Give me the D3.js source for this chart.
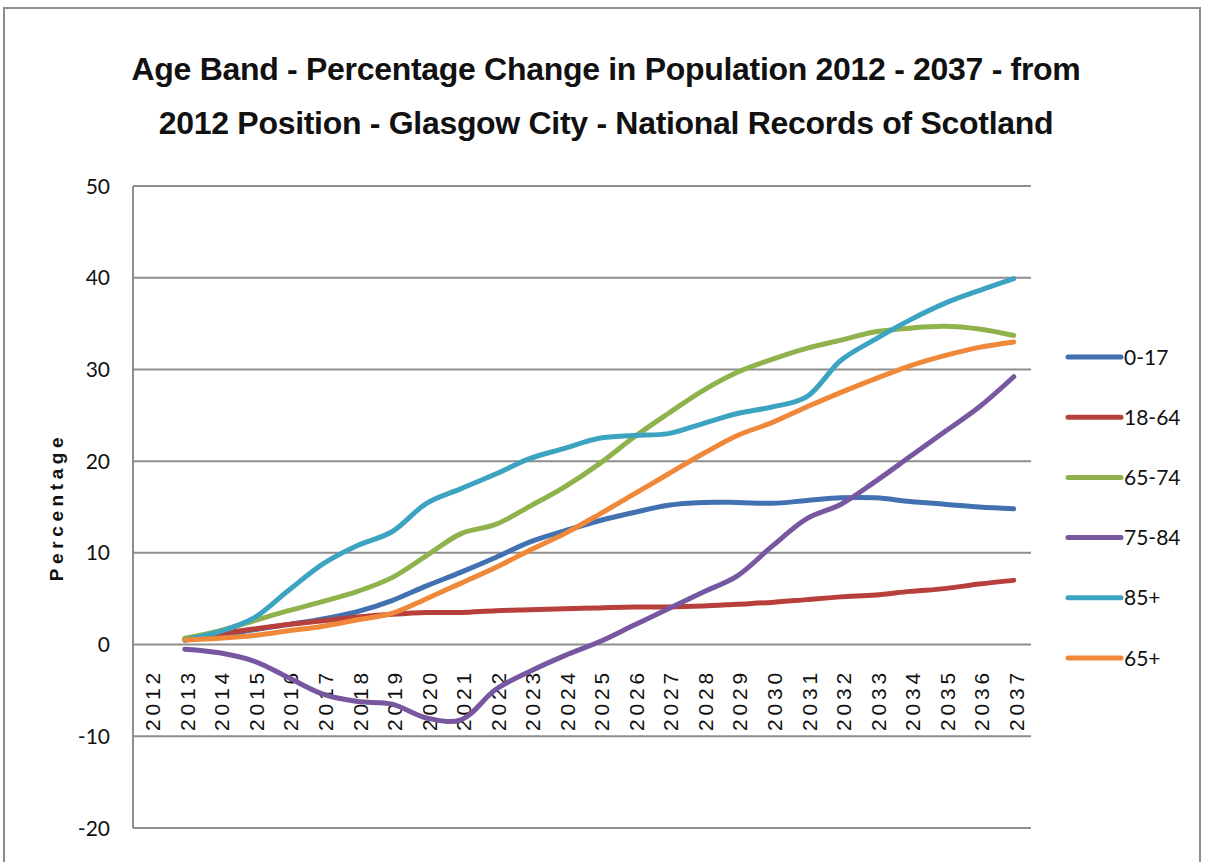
<!DOCTYPE html>
<meta charset="utf-8">
<title>Age Band - Percentage Change in Population</title>
<style>
  body { margin: 0; background: #fff; }
  text { fill: #111; }
</style>
<body>
<script src="https://cdn.jsdelivr.net/npm/d3@7"></script>
<script>

// data
const years = d3.range(2012, 2038);
const bands = ["0-17", "18-64", "65-74", "75-84", "85+", "65+"];
const colors = ["#4171b0", "#b8403c", "#8fb24c", "#7657a0", "#3ca3c0", "#f0883a"];
const yTicks = [-20, -10, 0, 10, 20, 30, 40, 50];

// 2012 is the base year, so no value there
const age0to17 = [null, 0.5, 1.0, 1.6, 2.2, 2.8, 3.6, 4.8, 6.4, 7.9, 9.5, 11.2, 12.4, 13.5, 14.4, 15.2, 15.5, 15.5, 15.4, 15.7, 16.0, 16.0, 15.6, 15.3, 15.0, 14.8];
const age18to64 = [null, 0.5, 1.2, 1.7, 2.2, 2.6, 3.0, 3.3, 3.5, 3.5, 3.7, 3.8, 3.9, 4.0, 4.1, 4.1, 4.2, 4.4, 4.6, 4.9, 5.2, 5.4, 5.8, 6.1, 6.6, 7.0];
const age65to74 = [null, 0.7, 1.5, 2.6, 3.7, 4.7, 5.8, 7.3, 9.7, 12.1, 13.1, 15.1, 17.2, 19.7, 22.6, 25.2, 27.7, 29.7, 31.1, 32.3, 33.2, 34.1, 34.5, 34.7, 34.4, 33.7];
const age75to84 = [null, -0.5, -0.9, -1.8, -3.6, -5.4, -6.2, -6.5, -8.0, -8.2, -4.9, -2.9, -1.2, 0.3, 2.1, 3.9, 5.7, 7.5, 10.7, 13.7, 15.3, 17.8, 20.5, 23.2, 25.9, 29.2];
const age85plus = [null, 0.5, 1.4, 2.9, 5.9, 8.8, 10.8, 12.3, 15.4, 17.0, 18.6, 20.3, 21.4, 22.5, 22.8, 23.0, 24.1, 25.2, 25.9, 27.0, 31.0, 33.3, 35.4, 37.2, 38.6, 39.9];
const age65plus = [null, 0.5, 0.7, 1.0, 1.5, 2.0, 2.7, 3.4, 5.0, 6.7, 8.4, 10.3, 12.1, 14.2, 16.4, 18.6, 20.8, 22.8, 24.2, 25.9, 27.5, 29.0, 30.4, 31.5, 32.4, 33.0];

const seriesValues = [age0to17, age18to64, age65to74, age75to84, age85plus, age65plus];

const width = 1208,
  height = 862,
  plotLeft = 133, plotRight = 1031, plotTop = 186, plotBottom = 828;

const svg = d3.select("body").append("svg")
    .attr("width", width)
    .attr("height", height);

// outer chart frame
svg.append("rect")
    .attr("x", 4).attr("y", 8)
    .attr("width", 1196).attr("height", 900)
    .style("fill", "none")
    .style("stroke", "#8c8c8c")
    .style("stroke-width", 2);

// title
const titleLines = [
  "Age Band - Percentage Change in Population 2012 - 2037 - from",
  "2012 Position - Glasgow City - National Records of Scotland"
];
svg.selectAll("text.title")
    .data(titleLines)
  .enter().append("text")
    .attr("class", "title")
    .attr("x", 606)
    .attr("y", (d, i) => 80 + i * 54)
    .attr("text-anchor", "middle")
    .style("font-family", "'Liberation Sans', Arial, sans-serif")
    .style("font-weight", "bold")
    .style("font-size", "32px")
    .style("letter-spacing", "-0.3px")
    .text(d => d);

const x = d3.scalePoint()
    .domain(years)
    .range([plotLeft, plotRight])
    .padding(0.5);

const y = d3.scaleLinear()
    .domain([-20, 50])
    .range([plotBottom, plotTop]);

// gridlines
svg.append("g")
  .selectAll("line")
    .data(yTicks)
  .enter().append("line")
    .attr("x1", plotLeft).attr("x2", plotRight)
    .attr("y1", d => y(d)).attr("y2", d => y(d))
    .style("stroke", "#8e8e8e")
    .style("stroke-width", 2);

// value axis line
svg.append("line")
    .attr("x1", plotLeft).attr("x2", plotLeft)
    .attr("y1", plotTop).attr("y2", plotBottom)
    .style("stroke", "#8e8e8e")
    .style("stroke-width", 2);

// y tick labels
svg.append("g")
  .selectAll("text")
    .data(yTicks)
  .enter().append("text")
    .attr("x", 110)
    .attr("y", d => y(d))
    .attr("dy", "0.36em")
    .attr("text-anchor", "end")
    .style("font-family", "Lato, sans-serif")
    .style("font-size", "21px")
    .text(d => d);

// y axis title
svg.append("text")
    .attr("transform", "translate(63,507) rotate(-90)")
    .attr("text-anchor", "middle")
    .style("font-family", "'Liberation Sans', Arial, sans-serif")
    .style("font-weight", "bold")
    .style("font-size", "19px")
    .style("letter-spacing", "4.6px")
    .text("Percentage");

// category labels, rotated, hanging below the zero line
svg.append("g")
  .selectAll("text")
    .data(years)
  .enter().append("text")
    .attr("transform", d => "translate(" + (x(d) + 10) + ",731) rotate(-90)")
    .attr("text-anchor", "start")
    .style("font-family", "'Liberation Sans', Arial, sans-serif")
    .style("font-size", "21px")
    .style("letter-spacing", "3.8px")
    .text(d => d);

// series lines
const line = d3.line()
    .defined(d => d.v !== null)
    .x(d => x(d.year))
    .y(d => y(d.v))
    .curve(d3.curveCatmullRom.alpha(0.5));

svg.append("g")
  .selectAll("path")
    .data(seriesValues.map((vals, i) => ({ band: bands[i], color: colors[i], points: vals.map((v, j) => ({ year: years[j], v: v })) })))
  .enter().append("path")
    .attr("d", d => line(d.points))
    .style("fill", "none")
    .style("stroke", d => d.color)
    .style("stroke-width", 5)
    .style("stroke-linejoin", "round")
    .style("stroke-linecap", "round");

// legend
const legend = svg.append("g")
  .selectAll("g")
    .data(bands)
  .enter().append("g")
    .attr("transform", (d, i) => "translate(1068," + (357 + i * 60.2) + ")");

legend.append("line")
    .attr("x1", 0).attr("x2", 53)
    .style("stroke", (d, i) => colors[i])
    .style("stroke-width", 5)
    .style("stroke-linecap", "round");

legend.append("text")
    .attr("x", 56)
    .attr("dy", "0.36em")
    .style("font-family", "Lato, sans-serif")
    .style("font-size", "21px")
    .text(d => d);

</script>
